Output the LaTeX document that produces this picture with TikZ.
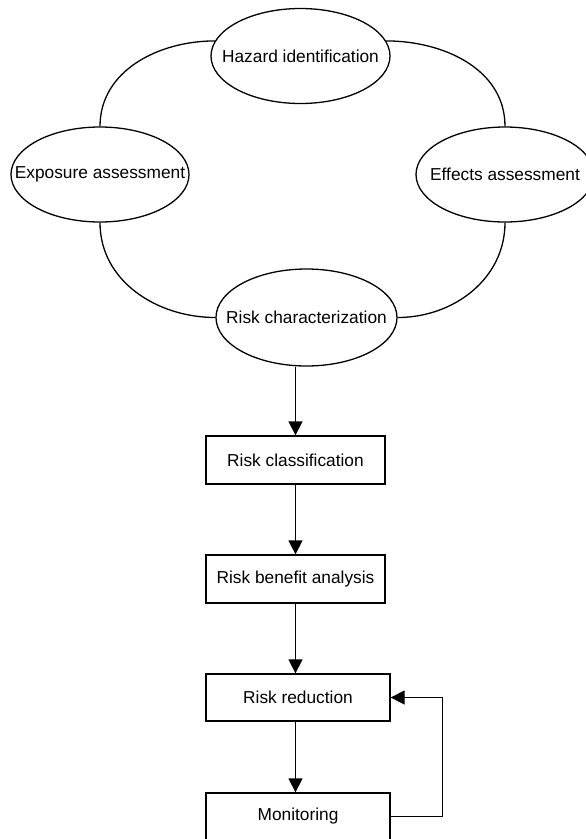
\documentclass[tikz,border=0pt]{standalone}
\usepackage{fontspec}
\setmainfont{Liberation Sans}
\usetikzlibrary{arrows.meta,shapes.geometric}

\begin{document}
\begin{tikzpicture}[x=1pt,y=1pt,line width=1.3pt,>={Triangle[length=14pt,width=14pt]},
  every node/.style={font=\fontsize{17.3}{20}\selectfont},
  phase/.style={ellipse,draw,minimum width=179pt,minimum height=95pt,inner sep=0pt},
  stepbox/.style={rectangle,draw,minimum width=179pt,minimum height=48pt,inner sep=0pt}]
\useasboundingbox (0,0) rectangle (586,-839);
% assessment cycle
\node[phase,label=center:Hazard identification] (haz) at (300.5,-56) {};
\node[phase,minimum width=178pt,label=center:Exposure assessment] (exp) at (100,-174.5) {};
\node[phase,minimum width=178pt,label=center:Effects assessment] (eff) at (505,-174.5) {};
\node[phase,minimum width=181pt,minimum height=97pt,label=center:Risk characterization] (rc) at (306.5,-317.5) {};
\draw (haz.170) to[out=180,in=90] (exp.north);
\draw (haz.10) to[out=0,in=90] (eff.north);
\draw (exp.south) to[out=-90,in=180] (rc.west);
\draw (eff.south) to[out=-90,in=0] (rc.east);
% management steps
\node[stepbox] (rcl) at (295.5,-460) {Risk classification};
\node[stepbox] (rba) at (295.5,-579) {Risk benefit analysis};
\node[stepbox,minimum width=184pt,minimum height=47pt] (rr) at (298,-697.5) {Risk reduction};
\node[stepbox,minimum width=184pt,minimum height=47pt] (mon) at (298,-816.5) {Monitoring};
\draw[->] (rc.south -| rcl.north) -- (rcl.north);
\draw[->] (rcl.south) -- (rba.north);
\draw[->] (rba.south) -- (rba.south |- rr.north);
\draw[->] (rba.south |- rr.south) -- (rba.south |- mon.north);
\draw[->] (mon.east) -- ++(52,0) |- (rr.east);
\end{tikzpicture}
\end{document}
